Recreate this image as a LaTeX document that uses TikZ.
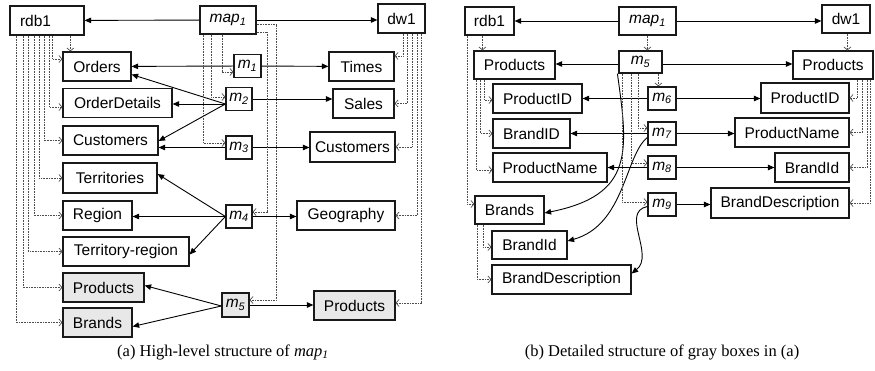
\documentclass[tikz,border=0pt]{standalone}
\usepackage{fontspec}
\setmainfont{Liberation Sans}
\newfontfamily\capfont{Liberation Serif}
\usetikzlibrary{arrows.meta}
\newcommand\mlab[1]{\textit{m}\textsubscript{\textit{#1}}}
\begin{document}
\begin{tikzpicture}[x=1pt,y=-1pt,
  bx/.style={draw=black!90, line width=1.2pt, minimum height=29pt, inner sep=2pt,
    font=\fontsize{15.5}{18}\selectfont, anchor=center},
  gbx/.style={bx, fill=black!9},
  mb/.style={bx, minimum height=23pt, minimum width=27pt},
  sarr/.style={line width=0.9pt, -{Triangle[length=6.5pt,width=5.5pt]}},
  darr/.style={line width=0.7pt, draw=black!70, dash pattern=on 0.8pt off 0.8pt,
    -{Straight Barb[length=3pt,width=7pt]}},
  captext/.style={font=\capfont\fontsize{16.5}{19}\selectfont}]
\useasboundingbox (0,0) rectangle (875,371);
% ---------------- left diagram ----------------
\node[bx, minimum width=74pt, text width=54pt, align=left, inner xsep=10pt] (rdb1L) at (47,20.5) {rdb1};
\node[bx, minimum width=56pt, minimum height=28pt] (map1L) at (228,20) {\textit{map}\textsubscript{\textit{1}}};
\node[bx, minimum width=47pt] (dw1L) at (401.5,18.5) {dw1};
\node[bx, minimum width=68pt] (Orders) at (97,66.5) {Orders};
\node[bx, minimum width=109pt] (OrderDetails) at (117.5,103) {OrderDetails};
\node[bx, minimum width=95pt] (CustomersL) at (110.5,140.5) {Customers};
\node[bx, minimum width=94pt, minimum height=30pt] (Territories) at (110,178) {Territories};
\node[bx, minimum width=69pt] (Region) at (97.5,215.5) {Region};
\node[bx, minimum width=126pt] (TerrReg) at (126,251.5) {Territory-region};
\node[gbx, minimum width=81pt] (ProductsL) at (103.5,287.5) {Products};
\node[gbx, minimum width=69pt] (BrandsL) at (97.5,322.5) {Brands};
\node[mb] (m1) at (247.5,66) {\mlab{1}};
\node[mb, minimum width=26pt] (m2) at (239,99) {\mlab{2}};
\node[mb, minimum width=26pt] (m3) at (239,147.5) {\mlab{3}};
\node[mb, minimum width=26pt] (m4) at (239,216.5) {\mlab{4}};
\node[mb, fill=black!9, minimum height=24pt] (m5L) at (235.5,305) {\mlab{5}};
\node[bx, minimum width=65pt] (Times) at (361.5,66.5) {Times};
\node[bx, minimum width=61pt] (Sales) at (363.5,103.5) {Sales};
\node[bx, minimum width=85pt, minimum height=30pt] (CustomersR) at (352.5,147) {Customers};
\node[bx, minimum width=98pt] (Geography) at (346,215.5) {Geography};
\node[gbx, minimum width=81pt] (ProductsR) at (354.5,305.5) {Products};
% solid arrows
\draw[sarr] (map1L) -- (rdb1L);
\draw[sarr] (map1L.east) -- (map1L.east -| dw1L.west);
\draw[sarr] (m1) -- (Orders);
\draw[sarr] (m1) -- (Times);
\coordinate (m2c) at ([yshift=-5pt]m2.west);
\draw[sarr] (m2c) -- ([yshift=-8pt]Orders.east);
\draw[sarr] (m2c) -- (m2c -| OrderDetails.east);
\draw[sarr] (m2c) -- ([yshift=-0.5pt]CustomersL.east);
\draw[sarr] (m2.east) -- (m2.east -| Sales.west);
\draw[sarr] (m3.west) -- (m3.west -| CustomersL.east);
\draw[sarr] (m3.east) -- (m3.east -| CustomersR.west);
\draw[sarr] (m4.west) -- ([yshift=4pt]Territories.east);
\draw[sarr] (m4.west) -- (m4.west -| Region.east);
\draw[sarr] (m4.west) -- ([yshift=-3pt]TerrReg.east);
\draw[sarr] (m4.east) -- (m4.east -| Geography.west);
\coordinate (m5c) at ([yshift=-1pt]m5L.west);
\draw[sarr] (m5c) -- ([yshift=2pt]ProductsL.east);
\draw[sarr] (m5c) -- ([yshift=-4pt]BrandsL.east);
\draw[sarr] (m5L.east) -- (m5L.east -| ProductsR.west);
% dotted from rdb1
\coordinate (ra) at ([xshift=7pt]rdb1L.south west);
\coordinate (rb) at ([xshift=14pt]rdb1L.south west);
\coordinate (rc) at ([xshift=19pt]rdb1L.south west);
\coordinate (rd) at ([xshift=25pt]rdb1L.south west);
\coordinate (re) at ([xshift=30pt]rdb1L.south west);
\coordinate (rf) at ([xshift=35pt]rdb1L.south west);
\coordinate (rg) at ([xshift=40pt]rdb1L.south west);
\coordinate (rh) at ([xshift=43pt]rdb1L.south west);
\coordinate (ri) at ([xshift=61pt]rdb1L.south west);
\draw[darr] (ra) |- (BrandsL.west);
\draw[darr] (rb) |- (ProductsL.west);
\draw[darr] (rc) |- (TerrReg.west);
\draw[darr] (rd) |- (Region.west);
\draw[darr] (re) |- (Territories.west);
\draw[darr] (rf) |- (CustomersL.west);
\draw[darr] (rg) |- ([yshift=-4pt]OrderDetails.west);
\draw[darr] (rh) |- ([yshift=7.5pt]Orders.west);
\draw[darr] (ri) -- (ri |- Orders.north);
% dotted from map1
\coordinate (ma) at ([xshift=4pt]map1L.south west);
\coordinate (mb) at ([xshift=12pt]map1L.south west);
\coordinate (mc) at ([xshift=23pt]map1L.south west);
\coordinate (md) at ([xshift=11pt,yshift=-12pt]map1L.east);
\coordinate (me) at ([xshift=20pt,yshift=-4pt]map1L.east);
\draw[darr] (ma) |- ([yshift=4.5pt]m3.west);
\draw[darr] (mb) |- ([yshift=2pt]m2.west);
\draw[darr] (mc) |- ([yshift=-6pt]m1.west);
\draw[darr] ([yshift=-12pt]map1L.east) -- (md) |- ([yshift=4.5pt]m4.east);
\draw[darr] ([yshift=-4pt]map1L.east) -- (me) |- ([yshift=5pt]m5L.east);
% dotted from dw1
\coordinate (da) at ([xshift=26pt]dw1L.south west);
\coordinate (db) at ([xshift=30pt]dw1L.south west);
\coordinate (dc) at ([xshift=35pt]dw1L.south west);
\coordinate (dd) at ([xshift=40pt]dw1L.south west);
\coordinate (de) at ([xshift=44pt]dw1L.south west);
\draw[darr] (da) |- ([yshift=10.5pt]Times.east);
\draw[darr] (db) |- (Sales.east);
\draw[darr] (dc) |- (CustomersR.east);
\draw[darr] (dd) |- (Geography.east);
\draw[darr] (de) |- ([yshift=2.5pt]ProductsR.east);
% ---------------- right diagram ----------------
\node[bx, minimum width=49pt, minimum height=28pt] (rdb1R) at (489.5,21) {rdb1};
\node[bx, minimum width=57pt, minimum height=28pt] (map1R) at (647.5,21) {\textit{map}\textsubscript{\textit{1}}};
\node[bx, minimum width=48pt, minimum height=28pt] (dw1R) at (846,19) {dw1};
\node[bx, minimum width=81pt, minimum height=28pt] (ProductsRL) at (514.5,65) {Products};
\node[mb, minimum width=43pt, minimum height=22pt] (m5R) at (640.5,62) {\mlab{5}};
\node[bx, minimum width=80pt, minimum height=28pt] (ProductsRR) at (833,65) {Products};
\node[bx, minimum width=89pt] (ProductIDL) at (537.5,98.5) {ProductID};
\node[bx, minimum width=77pt] (BrandIDL) at (531.5,133.5) {BrandID};
\node[bx, minimum width=114pt] (ProductNameL) at (550,167.5) {ProductName};
\node[bx, minimum width=69pt, minimum height=28pt] (BrandsR) at (509.5,210) {Brands};
\node[bx, minimum width=75pt, minimum height=28pt] (BrandIdL) at (529.5,245) {BrandId};
\node[bx, minimum width=139pt] (BrandDescL) at (561.5,279.5) {BrandDescription};
\node[mb, minimum width=28pt] (m6) at (662,98.5) {\mlab{6}};
\node[mb, minimum width=28pt] (m7) at (662,133.5) {\mlab{7}};
\node[mb, minimum width=28pt] (m8) at (662,167.5) {\mlab{8}};
\node[mb, minimum width=28pt] (m9) at (662,204.5) {\mlab{9}};
\node[bx, minimum width=88pt, minimum height=30pt] (ProductIDR) at (805,98) {ProductID};
\node[bx, minimum width=114pt] (ProductNameR) at (792,132.5) {ProductName};
\node[bx, minimum width=74pt] (BrandIdR) at (812,167.5) {BrandId};
\node[bx, minimum width=138pt, minimum height=30pt] (BrandDescR) at (780,203) {BrandDescription};
% solid arrows
\draw[sarr] (map1R) -- (rdb1R);
\draw[sarr] (map1R.east) -- (map1R.east -| dw1R.west);
\draw[sarr] ([yshift=-2pt]m5R.west) -- ([yshift=-2pt]m5R.west -| ProductsRL.east);
\draw[sarr] ([yshift=-2pt]m5R.east) -- ([yshift=-2pt]m5R.east -| ProductsRR.west);
\draw[sarr] (m6.west) -- (m6.west -| ProductIDL.east);
\draw[sarr] (m6.east) -- (m6.east -| ProductIDR.west);
\draw[sarr] (m7.west) -- (m7.west -| BrandIDL.east);
\draw[sarr] (m7.east) -- (m7.east -| ProductNameR.west);
\draw[sarr] (m8.west) -- (m8.west -| ProductNameL.east);
\draw[sarr] (m8.east) -- (m8.east -| BrandIdR.west);
\draw[sarr] (m9.east) -- (m9.east -| BrandDescR.west);
\draw[sarr] ([xshift=-1pt]m5R.south west) .. controls (628,150) and (635,195) .. ([yshift=-3pt]BrandsR.east);
\draw[sarr] ([yshift=-4pt]m7.west) .. controls (625,155) and (625,225) .. ([yshift=4pt]BrandIdL.east);
\draw[sarr] ([yshift=-2pt]m9.west) .. controls (620,212) and (655,255) .. ([yshift=6pt]BrandDescL.east);
% dotted
\coordinate (Ra) at ([xshift=18pt]rdb1R.south west);
\coordinate (Rb) at ([xshift=3pt]rdb1R.south west);
\draw[darr] (Ra) -- (Ra |- ProductsRL.north);
\draw[darr] (Rb) |- ([yshift=6pt]BrandsR.west);
\coordinate (Pa) at ([xshift=11pt]ProductsRL.south west);
\coordinate (Pb) at ([xshift=7pt]ProductsRL.south west);
\coordinate (Pc) at ([xshift=3pt]ProductsRL.south west);
\draw[darr] (Pa) |- ([yshift=-1.5pt]ProductIDL.west);
\draw[darr] (Pb) |- (BrandIDL.west);
\draw[darr] (Pc) |- ([yshift=-2.5pt]ProductNameL.west);
\coordinate (Ba) at ([xshift=9pt]BrandsR.south west);
\coordinate (Bb) at ([xshift=3pt]BrandsR.south west);
\draw[darr] (Ba) |- ([yshift=-2pt]BrandIdL.west);
\draw[darr] (Bb) |- (BrandDescL.west);
\coordinate (Ma) at ([xshift=29pt]map1R.south west);
\draw[darr] (Ma) -- (Ma |- m5R.north);
\coordinate (Mz) at ([xshift=40pt]m5R.south west);
\coordinate (Mb) at ([xshift=20pt]m5R.south west);
\coordinate (Mc) at ([xshift=13pt]m5R.south west);
\coordinate (Md) at ([xshift=4pt]m5R.south west);
\draw[darr] (Mz) -- (Mz |- m6.north);
\draw[darr] (Mb) |- ([yshift=5.5pt]m7.west);
\draw[darr] (Mc) |- ([yshift=4.5pt]m8.west);
\draw[darr] (Md) |- ([yshift=2.5pt]m9.west);
\coordinate (Da) at ([xshift=26pt]dw1R.south west);
\draw[darr] (Da) -- (Da |- ProductsRR.north);
\coordinate (Qa) at ([xshift=65pt]ProductsRR.south west);
\coordinate (Qb) at ([xshift=70pt]ProductsRR.south west);
\coordinate (Qc) at ([xshift=75pt]ProductsRR.south west);
\coordinate (Qd) at ([xshift=78pt]ProductsRR.south west);
\draw[darr] (Qa) |- (ProductIDR.east);
\draw[darr] (Qb) |- (ProductNameR.east);
\draw[darr] (Qc) |- (BrandIdR.east);
\draw[darr] (Qd) |- (BrandDescR.east);
% captions
\node[captext] (capa) at (223,352) {(a) High-level structure of \textit{map}\textsubscript{\textit{1}}};
\node[captext] (capb) at (662,352) {(b) Detailed structure of gray boxes in (a)};
\end{tikzpicture}
\end{document}
